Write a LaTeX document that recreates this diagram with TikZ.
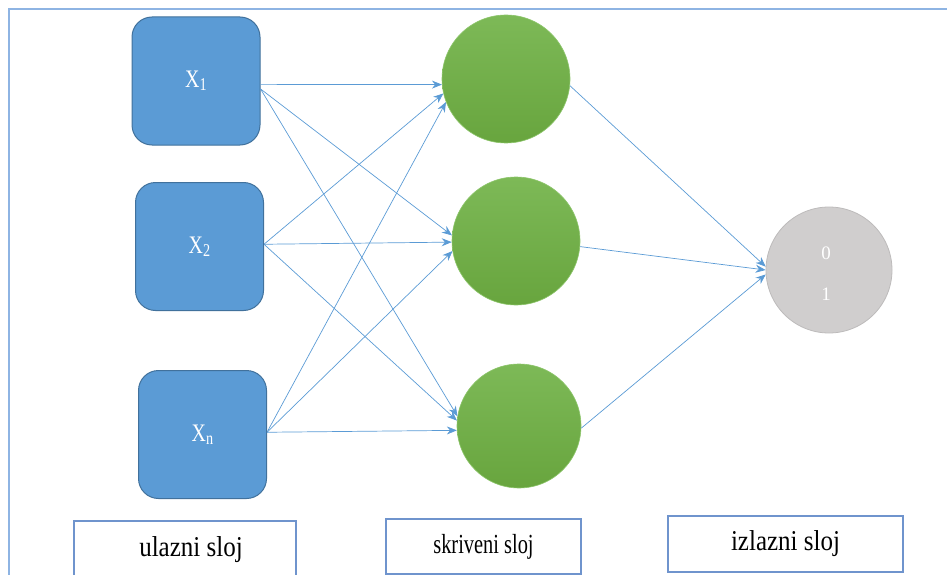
\documentclass[tikz,border=0pt]{standalone}
\usepackage{fontspec}
\setmainfont{Liberation Serif}
\usetikzlibrary{arrows.meta}
\definecolor{boxblue}{HTML}{5B9BD5}
\definecolor{boxedge}{HTML}{41719C}
\definecolor{arrblue}{HTML}{5B9BD5}
\definecolor{frameblue}{HTML}{8EB4E3}
\definecolor{labedge}{HTML}{6F94CD}
\definecolor{greentop}{HTML}{7DB957}
\definecolor{greenbot}{HTML}{68A53E}
\definecolor{greenedge}{HTML}{8CC56A}
\definecolor{grayfill}{HTML}{D0CECE}
\definecolor{grayedge}{HTML}{BDBBBB}
\tikzset{
  inbox/.style={shape=rectangle, rounded corners=20pt, fill=boxblue, draw=boxedge, line width=1pt,
    minimum width=128pt, minimum height=128pt, inner sep=0pt, text=white, font=\fontsize{21}{23}\selectfont},
  hid/.style={shape=circle, top color=greentop, bottom color=greenbot, draw=greenedge, line width=0.6pt,
    minimum size=#1, inner sep=0pt},
  outc/.style={shape=circle, fill=grayfill, draw=grayedge, line width=0.8pt, minimum size=126pt, inner sep=0pt},
  labbox/.style={shape=rectangle, draw=labedge, fill=white, line width=1.4pt, inner sep=0pt},
  arr/.style={draw=arrblue, line width=0.7pt, -{Stealth[length=10pt,width=8pt]}},
  numtxt/.style={text=white, font=\fontsize{19}{21}\selectfont, inner sep=0pt}
}
\newcommand{\xlab}[1]{\scalebox{0.95}[1.2]{X\raisebox{-0.3ex}{\fontsize{15}{15}\selectfont #1}}}
\newcommand{\tallt}[3]{\scalebox{#2}[1.15]{\fontsize{#1}{#1}\selectfont #3}}
\begin{document}
\begin{tikzpicture}[x=1pt,y=-1pt]
\clip (0,0) rectangle (947,575);
\useasboundingbox (0,0) rectangle (947,575);
% frame
\draw[frameblue, line width=1.5pt] (9,580) -- (9,9) -- (950,9);

% input boxes
\node[inbox] (x1) at (196,81) {\xlab{1}};
\node[inbox] (x2) at (199.5,246.5) {\xlab{2}};
\node[inbox] (xn) at (202.5,434.5) {\xlab{n}};

% hidden
\node[hid=128pt] (h1) at (506,79) {};
\node[hid=128pt] (h2) at (516,241) {};
\node[hid=124pt] (h3) at (519,426) {};

% output
\node[outc] (o) at (829,270) {};
\node[numtxt] (o0) at (826,253) {0};
\node[numtxt] (o1) at (826,294) {1};

% connectors input -> hidden
\draw[arr] (x1.-3) -- (h1.185);
\draw[arr] (x1.-7) -- (h2.175);
\draw[arr] (x1.-7) -- (h3.171);
\draw[arr] (x2.2) -- (h1.193);
\draw[arr] (x2.2) -- (h2.181);
\draw[arr] (x2.2) -- (h3.175);
\draw[arr] (xn.2) -- (h1.201);
\draw[arr] (xn.2) -- (h2.189);
\draw[arr] (xn.2) -- (h3.184);

% hidden -> output
\draw[arr] (h1.-6) -- (o.177);
\draw[arr] (h2.-5) -- (o.180);
\draw[arr] (h3.-2) -- (o.184);

% labels
\node[labbox, minimum width=222pt, minimum height=66pt] (l1) at (185,554) {};
\node (l1t) at (191,550) {\tallt{25}{1}{ulazni sloj}};
\node[labbox, minimum width=195pt, minimum height=55pt] (l2) at (483.5,546.5) {\tallt{24}{0.85}{skriveni sloj}};
\node[labbox, minimum width=235pt, minimum height=56pt] (l3) at (785.5,544) {\tallt{25}{1}{izlazni sloj}};
\end{tikzpicture}
\end{document}
